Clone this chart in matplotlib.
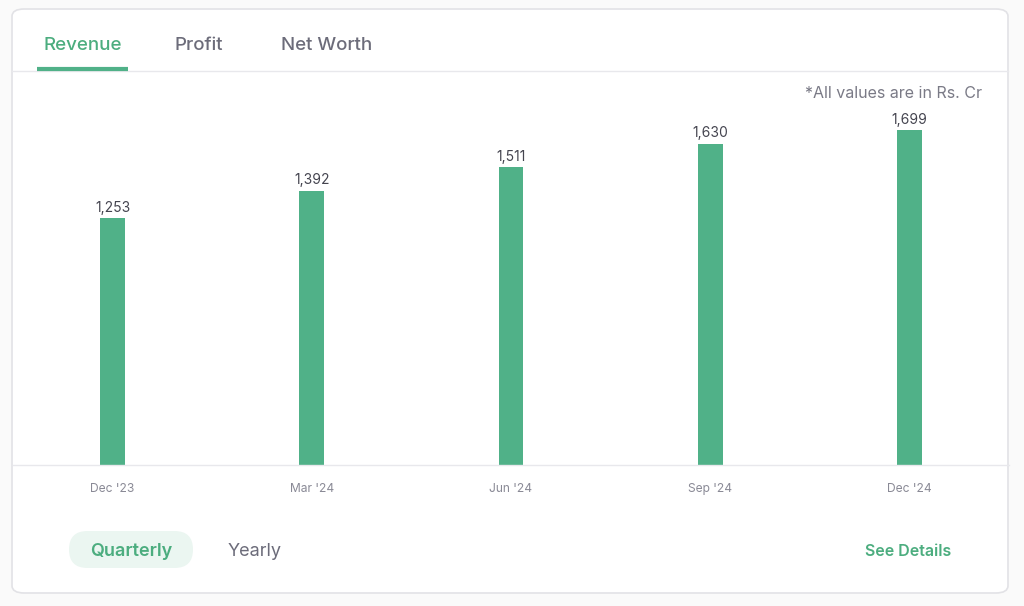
import matplotlib.pyplot as plt
from matplotlib.patches import FancyBboxPatch
from matplotlib.lines import Line2D

plt.rcParams['font.family'] = ['Inter', 'DejaVu Sans']

quarters = ["Dec '23", "Mar '24", "Jun '24", "Sep '24", "Dec '24"]
revenue = [1253, 1392, 1511, 1630, 1699]
tabs = ['Revenue', 'Profit', 'Net Worth']

GREEN = '#50b188'
GREEN_TEXT = '#4cad7f'
GRAY = '#6c6c7a'
LIGHT = '#e8e8ec'

W, H = 1024, 606
fig = plt.figure(figsize=(W / 100, H / 100), dpi=100)
fig.patch.set_facecolor('#fafafa')


def fx(px):
    return px / W


def fy(py):
    return 1 - py / H


# card behind everything
card = FancyBboxPatch((fx(12), fy(593)), fx(996), (593 - 9) / H,
                      boxstyle='round,pad=0,rounding_size=0.012',
                      transform=fig.transFigure, facecolor='white',
                      edgecolor='#e2e2e6', linewidth=1.2, zorder=-10)
fig.patches.append(card)

# tabs
tab_x = [83, 199, 327]
for i, (t, x) in enumerate(zip(tabs, tab_x)):
    fig.text(fx(x), fy(45), t, ha='center', va='center', fontsize=13.5,
             fontweight='medium', color=GREEN_TEXT if i == 0 else GRAY)
fig.lines.append(Line2D([fx(12), fx(1008)], [fy(71), fy(71)],
                        transform=fig.transFigure, color=LIGHT, lw=1))
fig.lines.append(Line2D([fx(37), fx(128)], [fy(69), fy(69)],
                        transform=fig.transFigure, color=GREEN, lw=3,
                        solid_capstyle='butt'))

fig.text(fx(982), fy(94), '*All values are in Rs. Cr', ha='right',
         va='center', fontsize=11.5, color='#7a7a86')

# chart
ax = fig.add_axes([fx(13), fy(465), fx(996), (465 - 110) / H])
ax.set_zorder(5)
x = range(len(quarters))
ax.bar(x, revenue, width=0.125, color=GREEN)
for xi, v in zip(x, revenue):
    ax.annotate(f'{v:,}', (xi, v), xytext=(0, 2.5), textcoords='offset points',
                ha='center', va='bottom', fontsize=10, color='#44444f')
ax.set_xlim(-0.5, len(quarters) - 0.5)
ax.set_ylim(0, 1802)
ax.set_xticks(list(x))
ax.set_xticklabels(quarters, fontsize=8.7, color='#8a8a96')
ax.tick_params(axis='x', length=0, pad=13)
ax.set_yticks([])
for s in ['top', 'left', 'right']:
    ax.spines[s].set_visible(False)
ax.spines['bottom'].set_color(LIGHT)
ax.spines['bottom'].set_linewidth(1)
ax.patch.set_alpha(0)

# bottom controls
pill = FancyBboxPatch((fx(69), fy(568)), fx(124), (568 - 531) / H,
                      boxstyle='round,pad=0,rounding_size=0.018',
                      transform=fig.transFigure, facecolor='#ebf6f1',
                      edgecolor='none', mutation_aspect=W / H, zorder=-5)
fig.patches.append(pill)
fig.text(fx(131), fy(552), 'Quarterly', ha='center', va='center',
         fontsize=13, fontweight='semibold', color=GREEN_TEXT)
fig.text(fx(255), fy(552), 'Yearly', ha='center', va='center',
         fontsize=13, color=GRAY)
fig.text(fx(951), fy(551), 'See Details', ha='right', va='center',
         fontsize=11.5, fontweight='semibold', color=GREEN_TEXT)

fig.savefig('out.png', dpi=100, facecolor=fig.get_facecolor())
